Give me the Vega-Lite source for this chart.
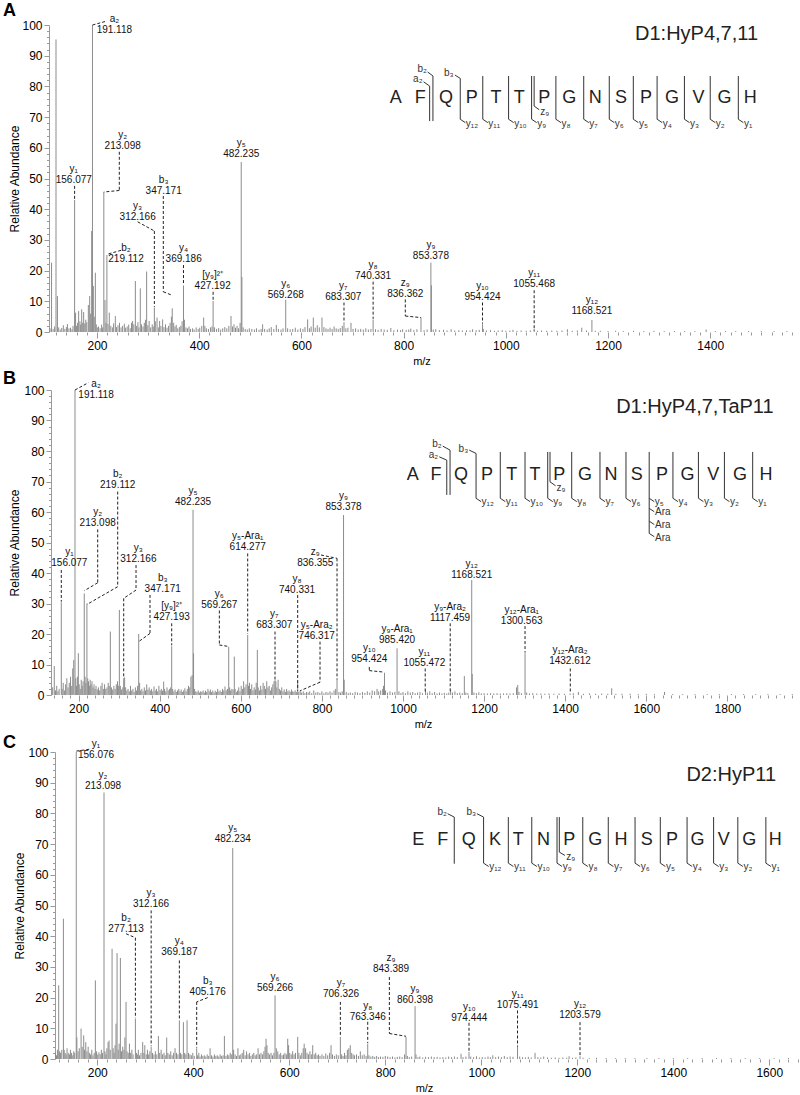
{
"$schema": "https://vega.github.io/schema/vega-lite/v6.json",
"padding": {"left": 2, "top": 1, "right": 0, "bottom": 0},
"spacing": 4,
"datasets": {
"pA": [{"mz":108,"ab":1.2},{"mz":111,"ab":22.6},{"mz":114,"ab":1.0},{"mz":117,"ab":1.8},{"mz":119.7,"ab":95.3},{"mz":122.5,"ab":11.7},{"mz":125,"ab":1.5},{"mz":128,"ab":0.8},{"mz":131,"ab":1.3},{"mz":134,"ab":2.2},{"mz":137,"ab":1.0},{"mz":140,"ab":1.6},{"mz":142,"ab":2.6},{"mz":145,"ab":1.2},{"mz":148,"ab":1.4},{"mz":151,"ab":0.9},{"mz":153,"ab":2.0},{"mz":156.1,"ab":43},{"mz":158,"ab":6.3},{"mz":160,"ab":2.0},{"mz":162,"ab":3.0},{"mz":164,"ab":6.8},{"mz":166.5,"ab":3.5},{"mz":168,"ab":2.4},{"mz":170,"ab":7.4},{"mz":172,"ab":3.0},{"mz":173.8,"ab":6.5},{"mz":176,"ab":2.8},{"mz":178,"ab":4.0},{"mz":180,"ab":3.2},{"mz":183,"ab":8.8},{"mz":185.6,"ab":11.7},{"mz":187.5,"ab":6.0},{"mz":189.5,"ab":32.9},{"mz":191.1,"ab":100},{"mz":192.8,"ab":15},{"mz":194.5,"ab":5.0},{"mz":196.7,"ab":19.3},{"mz":198.5,"ab":2.5},{"mz":200.5,"ab":1.5},{"mz":203,"ab":1.8},{"mz":206,"ab":1.2},{"mz":209,"ab":2.4},{"mz":211,"ab":1.5},{"mz":213.3,"ab":45.6},{"mz":215.6,"ab":10.4},{"mz":217.5,"ab":3.0},{"mz":219.3,"ab":25.1},{"mz":221.5,"ab":2.6},{"mz":224,"ab":6.3},{"mz":227,"ab":2.0},{"mz":230,"ab":1.5},{"mz":232.5,"ab":2.8},{"mz":235.8,"ab":5.2},{"mz":238,"ab":1.6},{"mz":241,"ab":2.2},{"mz":244,"ab":3.0},{"mz":247,"ab":1.5},{"mz":250,"ab":2.0},{"mz":253.4,"ab":2.7},{"mz":256,"ab":1.4},{"mz":259,"ab":1.8},{"mz":262,"ab":2.4},{"mz":265,"ab":1.2},{"mz":267.5,"ab":3.0},{"mz":269.7,"ab":3.6},{"mz":272,"ab":2.5},{"mz":275,"ab":16.6},{"mz":277.5,"ab":2.0},{"mz":280,"ab":3.2},{"mz":282,"ab":1.5},{"mz":284.7,"ab":14.2},{"mz":287,"ab":2.5},{"mz":290,"ab":1.8},{"mz":292.5,"ab":3.0},{"mz":295,"ab":4.0},{"mz":297.1,"ab":19.7},{"mz":299.5,"ab":2.2},{"mz":302,"ab":3.6},{"mz":305,"ab":1.5},{"mz":308,"ab":2.5},{"mz":310,"ab":1.8},{"mz":312.2,"ab":8.0},{"mz":314,"ab":3.5},{"mz":317.4,"ab":4.7},{"mz":320,"ab":1.5},{"mz":322.5,"ab":3.6},{"mz":325,"ab":2.0},{"mz":328.4,"ab":4.1},{"mz":331,"ab":1.6},{"mz":334,"ab":2.5},{"mz":337,"ab":1.4},{"mz":340,"ab":2.0},{"mz":343,"ab":3.0},{"mz":345.5,"ab":5.0},{"mz":347.2,"ab":7.7},{"mz":350,"ab":3.0},{"mz":352.5,"ab":1.8},{"mz":355,"ab":2.3},{"mz":358,"ab":1.2},{"mz":361,"ab":1.6},{"mz":364,"ab":2.0},{"mz":366.5,"ab":3.5},{"mz":369.2,"ab":15},{"mz":371,"ab":4.0},{"mz":374,"ab":1.5},{"mz":377,"ab":1.2},{"mz":380,"ab":1.8},{"mz":383,"ab":1.0},{"mz":387,"ab":1.2},{"mz":390,"ab":0.8},{"mz":394,"ab":1.5},{"mz":398,"ab":1.0},{"mz":401,"ab":1.4},{"mz":405,"ab":2.0},{"mz":408.7,"ab":4.7},{"mz":411,"ab":2.0},{"mz":414,"ab":1.2},{"mz":418,"ab":1.0},{"mz":422,"ab":1.5},{"mz":425,"ab":1.8},{"mz":427.2,"ab":10.1},{"mz":430,"ab":1.5},{"mz":434,"ab":1.0},{"mz":438,"ab":1.3},{"mz":442,"ab":0.8},{"mz":446,"ab":1.2},{"mz":450,"ab":1.6},{"mz":454,"ab":1.2},{"mz":458,"ab":2.0},{"mz":462.2,"ab":5.2},{"mz":465,"ab":1.8},{"mz":468,"ab":2.5},{"mz":471,"ab":1.4},{"mz":474,"ab":2.0},{"mz":477,"ab":1.2},{"mz":480,"ab":3.0},{"mz":482.2,"ab":55.4},{"mz":483.5,"ab":17.9},{"mz":486,"ab":1.5},{"mz":490,"ab":1.0},{"mz":494,"ab":0.8},{"mz":498,"ab":1.2},{"mz":503,"ab":1.0},{"mz":508,"ab":0.8},{"mz":512,"ab":1.2},{"mz":517,"ab":0.7},{"mz":521,"ab":1.0},{"mz":524.1,"ab":2.5},{"mz":528,"ab":1.0},{"mz":533,"ab":0.8},{"mz":537,"ab":1.2},{"mz":541,"ab":1.6},{"mz":546,"ab":1.0},{"mz":550.9,"ab":2.3},{"mz":555,"ab":1.0},{"mz":560,"ab":0.8},{"mz":564,"ab":1.2},{"mz":569.3,"ab":10.5},{"mz":573,"ab":1.2},{"mz":578,"ab":0.9},{"mz":583,"ab":1.0},{"mz":588,"ab":1.4},{"mz":593,"ab":0.8},{"mz":598,"ab":1.2},{"mz":603,"ab":1.0},{"mz":607,"ab":1.6},{"mz":612.2,"ab":4.1},{"mz":616,"ab":1.2},{"mz":619,"ab":1.8},{"mz":623.3,"ab":4.7},{"mz":627,"ab":1.4},{"mz":631,"ab":2.2},{"mz":635,"ab":1.5},{"mz":640.2,"ab":4.7},{"mz":644,"ab":1.6},{"mz":648,"ab":1.2},{"mz":652,"ab":1.0},{"mz":656,"ab":1.4},{"mz":660,"ab":1.0},{"mz":664,"ab":1.8},{"mz":668,"ab":1.2},{"mz":672,"ab":1.0},{"mz":676,"ab":1.3},{"mz":680,"ab":2.0},{"mz":683.3,"ab":3.2},{"mz":687,"ab":1.2},{"mz":691,"ab":1.4},{"mz":697,"ab":3.0},{"mz":701,"ab":1.0},{"mz":706,"ab":1.2},{"mz":711,"ab":0.8},{"mz":716,"ab":1.0},{"mz":721,"ab":0.8},{"mz":726,"ab":1.2},{"mz":731,"ab":0.8},{"mz":736,"ab":1.0},{"mz":740.3,"ab":4.1},{"mz":745,"ab":0.9},{"mz":750,"ab":0.7},{"mz":756,"ab":1.0},{"mz":762,"ab":0.8},{"mz":768,"ab":0.7},{"mz":775,"ab":1.3},{"mz":781,"ab":0.6},{"mz":788,"ab":0.8},{"mz":794,"ab":0.6},{"mz":798,"ab":0.9},{"mz":805,"ab":0.7},{"mz":810,"ab":0.8},{"mz":814,"ab":1.1},{"mz":820,"ab":0.6},{"mz":826,"ab":0.9},{"mz":834,"ab":4.7},{"mz":840,"ab":0.6},{"mz":846,"ab":0.8},{"mz":853.4,"ab":22.6},{"mz":854.4,"ab":15.2},{"mz":858,"ab":0.8},{"mz":863,"ab":0.9},{"mz":870,"ab":0.6},{"mz":878,"ab":0.7},{"mz":885,"ab":0.5},{"mz":893,"ab":0.9},{"mz":900,"ab":0.5},{"mz":908,"ab":0.6},{"mz":915,"ab":0.5},{"mz":923,"ab":0.6},{"mz":930,"ab":0.5},{"mz":935,"ab":0.9},{"mz":942,"ab":0.6},{"mz":948,"ab":0.7},{"mz":954.4,"ab":2.5},{"mz":956,"ab":1.0},{"mz":962,"ab":0.5},{"mz":970,"ab":0.6},{"mz":978,"ab":0.4},{"mz":985,"ab":0.5},{"mz":993,"ab":0.6},{"mz":1000,"ab":0.4},{"mz":1008,"ab":0.5},{"mz":1014,"ab":0.7},{"mz":1022,"ab":0.4},{"mz":1030,"ab":0.5},{"mz":1040,"ab":0.4},{"mz":1048,"ab":0.5},{"mz":1055.5,"ab":1.0},{"mz":1062,"ab":0.4},{"mz":1070,"ab":0.5},{"mz":1080,"ab":0.4},{"mz":1090,"ab":0.5},{"mz":1100,"ab":0.4},{"mz":1110,"ab":0.5},{"mz":1120.5,"ab":0.9},{"mz":1130,"ab":0.4},{"mz":1140,"ab":0.5},{"mz":1148.6,"ab":1.4},{"mz":1158,"ab":0.5},{"mz":1168.5,"ab":3.9},{"mz":1175,"ab":0.4},{"mz":1185,"ab":0.4},{"mz":1200,"ab":0.3},{"mz":1215,"ab":0.4},{"mz":1230,"ab":0.3},{"mz":1250,"ab":0.4},{"mz":1270,"ab":0.3},{"mz":1290,"ab":0.4},{"mz":1310,"ab":0.3},{"mz":1330,"ab":0.3},{"mz":1350,"ab":0.3},{"mz":1370,"ab":0.3},{"mz":1392,"ab":0.8},{"mz":1410,"ab":0.3},{"mz":1430,"ab":0.3},{"mz":1450,"ab":0.3},{"mz":1475,"ab":0.3},{"mz":1500,"ab":0.3},{"mz":1525,"ab":0.3},{"mz":1550,"ab":0.3}],
"lA": [{"mz":233.9,"ab":97.4,"ion":"a₂","v":"191.118"},{"mz":154.5,"ab":48.5,"ion":"y₁","v":"156.077"},{"mz":250.2,"ab":59.7,"ion":"y₂","v":"213.098"},{"mz":279.5,"ab":36.6,"ion":"y₃","v":"312.166"},{"mz":330.4,"ab":45.0,"ion":"b₃","v":"347.171"},{"mz":256.7,"ab":22.7,"ion":"b₂","v":"219.112"},{"mz":369.5,"ab":22.7,"ion":"y₄","v":"369.186"},{"mz":426.3,"ab":14.0,"ion":"[y₉]²⁺","v":"427.192"},{"mz":482.2,"ab":57.0,"ion":"y₅","v":"482.235"},{"mz":569.3,"ab":11.1,"ion":"y₆","v":"569.268"},{"mz":682.0,"ab":10.5,"ion":"y₇","v":"683.307"},{"mz":740.3,"ab":17.4,"ion":"y₈","v":"740.331"},{"mz":803.3,"ab":11.4,"ion":"z₉","v":"836.362"},{"mz":853.4,"ab":23.9,"ion":"y₉","v":"853.378"},{"mz":954.4,"ab":10.3,"ion":"y₁₀","v":"954.424"},{"mz":1055.5,"ab":14.5,"ion":"y₁₁","v":"1055.468"},{"mz":1168.5,"ab":5.9,"ion":"y₁₂","v":"1168.521"}],
"dA": [{"mz":191.1,"ab":100,"mz2":219.5,"ab2":101.3},{"mz":156.1,"ab":47.6,"mz2":156.1,"ab2":43.3},{"mz":243.6,"ab":58.7,"mz2":243.6,"ab2":46.1},{"mz":243.6,"ab":46.1,"mz2":213.3,"ab2":45.6},{"mz":279.5,"ab":35.9,"mz2":312.2,"ab2":32.9},{"mz":312.2,"ab":32.9,"mz2":312.2,"ab2":8.2},{"mz":329.7,"ab":44.3,"mz2":329.7,"ab2":13.1},{"mz":329.7,"ab":13.1,"mz2":345,"ab2":12.1},{"mz":247,"ab":26.6,"mz2":219.3,"ab2":25.3},{"mz":369.2,"ab":21.8,"mz2":369.2,"ab2":15.2},{"mz":427.2,"ab":13.1,"mz2":427.2,"ab2":10.3},{"mz":683.3,"ab":9.6,"mz2":683.3,"ab2":3.4},{"mz":740.3,"ab":16.4,"mz2":740.3,"ab2":4.3},{"mz":803.3,"ab":10.6,"mz2":803.3,"ab2":5.2},{"mz":803.3,"ab":5.2,"mz2":834,"ab2":4.7},{"mz":954.4,"ab":9.6,"mz2":954.4,"ab2":2.7},{"mz":1055.5,"ab":13.6,"mz2":1055.5,"ab2":0.4}],
"rA": [{"i":0.99,"yy":76.2,"aa":"A"},{"i":1.96,"yy":76.2,"aa":"F"},{"i":2.98,"yy":76.2,"aa":"Q"},{"i":3.99,"yy":76.2,"aa":"P"},{"i":4.95,"yy":76.2,"aa":"T"},{"i":5.87,"yy":76.2,"aa":"T"},{"i":6.86,"yy":76.2,"aa":"P"},{"i":7.85,"yy":76.2,"aa":"G"},{"i":8.88,"yy":76.2,"aa":"N"},{"i":9.89,"yy":76.2,"aa":"S"},{"i":10.88,"yy":76.2,"aa":"P"},{"i":11.91,"yy":76.2,"aa":"G"},{"i":12.96,"yy":76.2,"aa":"V"},{"i":13.98,"yy":76.2,"aa":"G"},{"i":15.0,"yy":76.2,"aa":"H"}],
"sA": [{"i":3.54,"yy":82.6,"i2":3.54,"yy2":69.3},{"i":4.43,"yy":83.4,"i2":4.43,"yy2":69.3},{"i":5.45,"yy":83.4,"i2":5.45,"yy2":69.3},{"i":6.36,"yy":83.4,"i2":6.36,"yy2":69.3},{"i":7.32,"yy":83.4,"i2":7.32,"yy2":69.3},{"i":8.42,"yy":83.4,"i2":8.42,"yy2":69.3},{"i":9.43,"yy":83.4,"i2":9.43,"yy2":69.3},{"i":10.38,"yy":83.4,"i2":10.38,"yy2":69.3},{"i":11.32,"yy":83.4,"i2":11.32,"yy2":69.3},{"i":12.4,"yy":83.4,"i2":12.4,"yy2":69.3},{"i":13.42,"yy":83.4,"i2":13.42,"yy2":69.3},{"i":14.53,"yy":83.4,"i2":14.53,"yy2":69.3},{"i":3.54,"yy":69.3,"i2":3.74,"yy2":68.2},{"i":4.43,"yy":69.3,"i2":4.63,"yy2":68.2},{"i":5.45,"yy":69.3,"i2":5.65,"yy2":68.2},{"i":6.36,"yy":69.3,"i2":6.56,"yy2":68.2},{"i":7.32,"yy":69.3,"i2":7.52,"yy2":68.2},{"i":8.42,"yy":69.3,"i2":8.62,"yy2":68.2},{"i":9.43,"yy":69.3,"i2":9.63,"yy2":68.2},{"i":10.38,"yy":69.3,"i2":10.58,"yy2":68.2},{"i":11.32,"yy":69.3,"i2":11.52,"yy2":68.2},{"i":12.4,"yy":69.3,"i2":12.6,"yy2":68.2},{"i":13.42,"yy":69.3,"i2":13.62,"yy2":68.2},{"i":14.53,"yy":69.3,"i2":14.73,"yy2":68.2},{"i":2.46,"yy":83.4,"i2":2.46,"yy2":68.7},{"i":2.46,"yy":83.4,"i2":2.25,"yy2":84.7},{"i":2.33,"yy":80.1,"i2":2.33,"yy2":68.7},{"i":2.33,"yy":80.1,"i2":2.09,"yy2":81.5},{"i":3.54,"yy":82.6,"i2":3.33,"yy2":83.7},{"i":6.46,"yy":83.4,"i2":6.46,"yy2":73.6},{"i":6.46,"yy":73.6,"i2":6.66,"yy2":72.4}],
"tlA": [{"i":3.76,"yy":67.8,"t":"y₁₂"},{"i":4.65,"yy":67.8,"t":"y₁₁"},{"i":5.67,"yy":67.8,"t":"y₁₀"},{"i":6.58,"yy":67.8,"t":"y₉"},{"i":7.54,"yy":67.8,"t":"y₈"},{"i":8.64,"yy":67.8,"t":"y₇"},{"i":9.65,"yy":67.8,"t":"y₆"},{"i":10.6,"yy":67.8,"t":"y₅"},{"i":11.54,"yy":67.8,"t":"y₄"},{"i":12.62,"yy":67.8,"t":"y₃"},{"i":13.64,"yy":67.8,"t":"y₂"},{"i":14.75,"yy":67.8,"t":"y₁"},{"i":6.7,"yy":71.8,"t":"z₉"}],
"trA": [{"i":2.22,"yy":85.6,"t":"b₂"},{"i":2.05,"yy":82.3,"t":"a₂"},{"i":3.28,"yy":84.3,"t":"b₃"}],
"pB": [{"mz":136,"ab":2.5},{"mz":140,"ab":9.5},{"mz":143,"ab":1.5},{"mz":146,"ab":3.0},{"mz":149,"ab":1.2},{"mz":152,"ab":2.0},{"mz":157.3,"ab":30.4},{"mz":159.5,"ab":2.0},{"mz":162,"ab":4.0},{"mz":165,"ab":1.5},{"mz":168,"ab":3.5},{"mz":171,"ab":5.5},{"mz":174,"ab":2.5},{"mz":177,"ab":4.0},{"mz":180,"ab":6.0},{"mz":183,"ab":3.0},{"mz":185.5,"ab":8.7},{"mz":188,"ab":11.5},{"mz":191.1,"ab":100},{"mz":193,"ab":5.5},{"mz":195,"ab":3.0},{"mz":197,"ab":6.0},{"mz":199.4,"ab":13.7},{"mz":201.5,"ab":3.5},{"mz":204,"ab":2.0},{"mz":206.5,"ab":5.0},{"mz":209,"ab":3.0},{"mz":211,"ab":4.5},{"mz":214,"ab":33.3},{"mz":216,"ab":6.0},{"mz":218,"ab":4.0},{"mz":220.5,"ab":30},{"mz":222.5,"ab":5.5},{"mz":224.5,"ab":4.5},{"mz":226.5,"ab":3.0},{"mz":228.5,"ab":5.0},{"mz":230.5,"ab":3.5},{"mz":233,"ab":4.5},{"mz":235.5,"ab":2.5},{"mz":238,"ab":3.5},{"mz":240.5,"ab":2.0},{"mz":243,"ab":3.0},{"mz":246,"ab":1.8},{"mz":249,"ab":2.5},{"mz":252,"ab":1.5},{"mz":255,"ab":3.0},{"mz":258,"ab":4.0},{"mz":261,"ab":2.0},{"mz":264,"ab":3.5},{"mz":267,"ab":2.0},{"mz":270,"ab":2.5},{"mz":273,"ab":4.0},{"mz":275.5,"ab":3.0},{"mz":278.3,"ab":20.8},{"mz":281,"ab":2.5},{"mz":284,"ab":1.8},{"mz":287,"ab":3.0},{"mz":290,"ab":2.0},{"mz":293,"ab":3.5},{"mz":296,"ab":4.5},{"mz":298,"ab":3.0},{"mz":300.5,"ab":27.9},{"mz":303,"ab":3.0},{"mz":306,"ab":1.8},{"mz":309,"ab":2.5},{"mz":311.2,"ab":5.5},{"mz":313.5,"ab":5.8},{"mz":316,"ab":2.5},{"mz":319,"ab":1.5},{"mz":322,"ab":2.0},{"mz":325,"ab":1.2},{"mz":328,"ab":3.0},{"mz":331,"ab":1.5},{"mz":334,"ab":2.0},{"mz":337,"ab":1.0},{"mz":340,"ab":2.5},{"mz":343,"ab":1.5},{"mz":345.5,"ab":3.0},{"mz":348.2,"ab":20.0},{"mz":350.5,"ab":4.0},{"mz":353,"ab":1.5},{"mz":356,"ab":2.0},{"mz":359,"ab":1.2},{"mz":362,"ab":2.5},{"mz":365,"ab":1.5},{"mz":368,"ab":3.5},{"mz":371,"ab":1.8},{"mz":374,"ab":2.5},{"mz":377,"ab":1.5},{"mz":380,"ab":2.0},{"mz":383,"ab":1.2},{"mz":386,"ab":2.8},{"mz":389,"ab":1.5},{"mz":392,"ab":2.0},{"mz":395,"ab":1.2},{"mz":398,"ab":3.0},{"mz":401,"ab":1.5},{"mz":404,"ab":2.0},{"mz":407,"ab":1.4},{"mz":409.8,"ab":4.4},{"mz":412,"ab":2.0},{"mz":415,"ab":1.2},{"mz":418,"ab":2.5},{"mz":421,"ab":1.5},{"mz":424,"ab":2.0},{"mz":427,"ab":2.5},{"mz":429.6,"ab":16.0},{"mz":432,"ab":2.0},{"mz":435,"ab":1.2},{"mz":438,"ab":1.8},{"mz":441,"ab":1.0},{"mz":444,"ab":1.5},{"mz":447,"ab":2.0},{"mz":450,"ab":1.2},{"mz":453,"ab":1.8},{"mz":456,"ab":1.0},{"mz":459,"ab":1.5},{"mz":462,"ab":2.2},{"mz":465,"ab":1.2},{"mz":468,"ab":2.0},{"mz":471,"ab":3.0},{"mz":474,"ab":2.5},{"mz":477,"ab":6.0},{"mz":480,"ab":6.5},{"mz":482.2,"ab":60.7},{"mz":483.5,"ab":13.7},{"mz":486,"ab":2.0},{"mz":489,"ab":1.2},{"mz":492,"ab":1.0},{"mz":495,"ab":1.5},{"mz":498,"ab":0.8},{"mz":501,"ab":1.2},{"mz":504,"ab":1.0},{"mz":507,"ab":1.5},{"mz":510,"ab":0.8},{"mz":513,"ab":1.4},{"mz":516,"ab":1.0},{"mz":519,"ab":2.0},{"mz":522,"ab":1.2},{"mz":525,"ab":1.8},{"mz":528,"ab":1.0},{"mz":531,"ab":1.5},{"mz":534,"ab":0.8},{"mz":537,"ab":1.4},{"mz":540,"ab":1.0},{"mz":543,"ab":2.0},{"mz":546,"ab":1.2},{"mz":549,"ab":1.5},{"mz":552,"ab":1.0},{"mz":555,"ab":2.0},{"mz":558,"ab":1.5},{"mz":561,"ab":2.8},{"mz":564,"ab":1.5},{"mz":567,"ab":2.0},{"mz":570.2,"ab":15.8},{"mz":572.5,"ab":2.5},{"mz":575,"ab":1.5},{"mz":578,"ab":2.0},{"mz":581,"ab":1.8},{"mz":584,"ab":12.6},{"mz":586,"ab":2.0},{"mz":589,"ab":1.0},{"mz":592,"ab":1.5},{"mz":595,"ab":2.5},{"mz":598,"ab":1.2},{"mz":601,"ab":3.0},{"mz":604,"ab":2.0},{"mz":607,"ab":4.5},{"mz":610,"ab":2.5},{"mz":613,"ab":3.5},{"mz":617,"ab":19.7},{"mz":619,"ab":3.0},{"mz":621.5,"ab":4.0},{"mz":624,"ab":2.0},{"mz":627,"ab":3.5},{"mz":630,"ab":1.5},{"mz":633,"ab":2.5},{"mz":636,"ab":1.8},{"mz":638,"ab":4.0},{"mz":640.8,"ab":14.8},{"mz":643,"ab":2.5},{"mz":646,"ab":1.5},{"mz":649,"ab":3.0},{"mz":652,"ab":1.8},{"mz":655,"ab":4.0},{"mz":658,"ab":3.0},{"mz":661,"ab":2.0},{"mz":664,"ab":4.5},{"mz":667,"ab":2.5},{"mz":670,"ab":3.0},{"mz":673,"ab":1.5},{"mz":676,"ab":2.5},{"mz":679,"ab":3.5},{"mz":682,"ab":4.5},{"mz":684.4,"ab":4.9},{"mz":686.5,"ab":4.5},{"mz":689,"ab":2.5},{"mz":692,"ab":5.0},{"mz":695,"ab":2.0},{"mz":698,"ab":1.5},{"mz":701,"ab":2.5},{"mz":704,"ab":1.2},{"mz":707,"ab":1.8},{"mz":710,"ab":1.0},{"mz":713,"ab":2.0},{"mz":716,"ab":1.2},{"mz":719,"ab":1.5},{"mz":722,"ab":1.0},{"mz":725,"ab":1.8},{"mz":728,"ab":1.2},{"mz":731,"ab":1.0},{"mz":734,"ab":1.5},{"mz":737,"ab":1.0},{"mz":740.3,"ab":4.4},{"mz":743,"ab":1.0},{"mz":746.5,"ab":1.5},{"mz":750,"ab":0.8},{"mz":754,"ab":1.2},{"mz":758,"ab":0.6},{"mz":762,"ab":1.0},{"mz":766,"ab":0.8},{"mz":770,"ab":1.2},{"mz":775,"ab":0.6},{"mz":780,"ab":1.5},{"mz":785,"ab":0.8},{"mz":790,"ab":1.0},{"mz":795,"ab":0.7},{"mz":800,"ab":1.2},{"mz":805,"ab":0.6},{"mz":810,"ab":1.0},{"mz":815,"ab":0.8},{"mz":820,"ab":1.2},{"mz":825,"ab":0.8},{"mz":830,"ab":1.5},{"mz":834,"ab":2.0},{"mz":837.3,"ab":4.9},{"mz":842,"ab":1.0},{"mz":846,"ab":0.8},{"mz":850,"ab":1.2},{"mz":853.4,"ab":59.0},{"mz":855,"ab":5.0},{"mz":860,"ab":1.0},{"mz":865,"ab":0.6},{"mz":870,"ab":0.8},{"mz":876,"ab":0.6},{"mz":882,"ab":1.0},{"mz":888,"ab":0.8},{"mz":894,"ab":0.6},{"mz":900,"ab":1.0},{"mz":906,"ab":0.7},{"mz":912,"ab":1.2},{"mz":918,"ab":0.8},{"mz":924,"ab":1.5},{"mz":930,"ab":1.2},{"mz":936,"ab":2.0},{"mz":940,"ab":1.2},{"mz":945,"ab":1.5},{"mz":950,"ab":2.0},{"mz":952,"ab":3.0},{"mz":954.4,"ab":7.3},{"mz":957,"ab":1.5},{"mz":962,"ab":0.8},{"mz":968,"ab":1.2},{"mz":974,"ab":0.8},{"mz":980,"ab":1.0},{"mz":985.4,"ab":15.3},{"mz":990,"ab":1.2},{"mz":995,"ab":0.6},{"mz":1000,"ab":1.0},{"mz":1006,"ab":0.6},{"mz":1012,"ab":1.2},{"mz":1018,"ab":0.8},{"mz":1024,"ab":1.0},{"mz":1030,"ab":0.6},{"mz":1036,"ab":0.8},{"mz":1042,"ab":1.0},{"mz":1048,"ab":0.6},{"mz":1055.5,"ab":1.5},{"mz":1060,"ab":0.8},{"mz":1066,"ab":1.2},{"mz":1072,"ab":0.6},{"mz":1078,"ab":1.0},{"mz":1084,"ab":0.5},{"mz":1090,"ab":0.8},{"mz":1096,"ab":0.5},{"mz":1102,"ab":0.7},{"mz":1108,"ab":0.5},{"mz":1113,"ab":0.8},{"mz":1117.5,"ab":1.5},{"mz":1122,"ab":0.8},{"mz":1128,"ab":1.2},{"mz":1134,"ab":0.6},{"mz":1140,"ab":0.8},{"mz":1146,"ab":0.6},{"mz":1151.3,"ab":6.2},{"mz":1155,"ab":0.8},{"mz":1160,"ab":0.6},{"mz":1169.5,"ab":37.7},{"mz":1170.8,"ab":6.9},{"mz":1175,"ab":0.8},{"mz":1181,"ab":0.6},{"mz":1187,"ab":0.9},{"mz":1193,"ab":0.5},{"mz":1200,"ab":0.6},{"mz":1208,"ab":0.5},{"mz":1216,"ab":0.6},{"mz":1224,"ab":0.5},{"mz":1232,"ab":0.6},{"mz":1240,"ab":0.5},{"mz":1248,"ab":0.5},{"mz":1256,"ab":0.6},{"mz":1264,"ab":0.5},{"mz":1272,"ab":0.6},{"mz":1280,"ab":2.5},{"mz":1283,"ab":3.3},{"mz":1286,"ab":1.0},{"mz":1292,"ab":0.6},{"mz":1301,"ab":13.7},{"mz":1305,"ab":0.8},{"mz":1312,"ab":0.5},{"mz":1320,"ab":0.6},{"mz":1330,"ab":0.5},{"mz":1340,"ab":0.5},{"mz":1350,"ab":0.4},{"mz":1360,"ab":0.5},{"mz":1372,"ab":0.4},{"mz":1385,"ab":0.5},{"mz":1398,"ab":0.4},{"mz":1412,"ab":0.5},{"mz":1420,"ab":0.6},{"mz":1432.6,"ab":1.0},{"mz":1445,"ab":0.4},{"mz":1460,"ab":0.5},{"mz":1475,"ab":0.4},{"mz":1490,"ab":0.5},{"mz":1505,"ab":0.4},{"mz":1514.7,"ab":2.2},{"mz":1525,"ab":0.4},{"mz":1540,"ab":0.4},{"mz":1560,"ab":0.4},{"mz":1580,"ab":0.3},{"mz":1600,"ab":0.4},{"mz":1620,"ab":0.3},{"mz":1645,"ab":1.0},{"mz":1665,"ab":0.3},{"mz":1690,"ab":0.3},{"mz":1720,"ab":0.3},{"mz":1750,"ab":0.3},{"mz":1780,"ab":0.3},{"mz":1810,"ab":0.3},{"mz":1840,"ab":0.3},{"mz":1870,"ab":0.3},{"mz":1900,"ab":0.3},{"mz":1930,"ab":0.3},{"mz":1960,"ab":0.3}],
"lB": [{"mz":243,"ab":97.4,"ion":"a₂","v":"191.118"},{"mz":177.2,"ab":42.2,"ion":"y₁","v":"156.077"},{"mz":247.1,"ab":55.3,"ion":"y₂","v":"213.098"},{"mz":296.4,"ab":67.9,"ion":"b₂","v":"219.112"},{"mz":347.4,"ab":43.6,"ion":"y₃","v":"312.166"},{"mz":407.4,"ab":33.7,"ion":"b₃","v":"347.171"},{"mz":429.6,"ab":24.5,"ion":"[y₉]²⁺","v":"427.193"},{"mz":482.2,"ab":62.4,"ion":"y₅","v":"482.235"},{"mz":547.1,"ab":28.6,"ion":"y₆","v":"569.267"},{"mz":617,"ab":47.4,"ion":"y₅-Ara₁","v":"614.277"},{"mz":682.7,"ab":22.0,"ion":"y₇","v":"683.307"},{"mz":738.7,"ab":33.6,"ion":"y₈","v":"740.331"},{"mz":783.8,"ab":42.2,"ion":"z₉","v":"836.355"},{"mz":787.2,"ab":18.3,"ion":"y₅-Ara₂","v":"746.317"},{"mz":853.4,"ab":60.5,"ion":"y₉","v":"853.378"},{"mz":916.9,"ab":10.7,"ion":"y₁₀","v":"954.424"},{"mz":985.3,"ab":17.2,"ion":"y₉-Ara₁","v":"985.420"},{"mz":1052.7,"ab":9.6,"ion":"y₁₁","v":"1055.472"},{"mz":1116,"ab":24.3,"ion":"y₉-Ara₂","v":"1117.459"},{"mz":1169.5,"ab":38.2,"ion":"y₁₂","v":"1168.521"},{"mz":1292.7,"ab":23.4,"ion":"y₁₂-Ara₁","v":"1300.563"},{"mz":1411.9,"ab":10.2,"ion":"y₁₂-Ara₂","v":"1432.612"}],
"dB": [{"mz":191.1,"ab":100,"mz2":224.1,"ab2":102.4},{"mz":157.3,"ab":41.0,"mz2":157.3,"ab2":30.6},{"mz":247.1,"ab":54.3,"mz2":247.1,"ab2":36.8},{"mz":247.1,"ab":36.8,"mz2":214.2,"ab2":34.2},{"mz":296.4,"ab":66.7,"mz2":296.4,"ab2":35.5},{"mz":296.4,"ab":35.5,"mz2":220.8,"ab2":29.7},{"mz":341.6,"ab":42.6,"mz2":341.6,"ab2":34.4},{"mz":341.6,"ab":34.4,"mz2":311.2,"ab2":31.7},{"mz":311.2,"ab":31.7,"mz2":311.2,"ab2":5.8},{"mz":376.1,"ab":32.8,"mz2":376.1,"ab2":20.2},{"mz":376.1,"ab":20.2,"mz2":348.2,"ab2":17.5},{"mz":429.6,"ab":23.5,"mz2":429.6,"ab2":16.3},{"mz":547.1,"ab":27.7,"mz2":547.1,"ab2":16.4},{"mz":547.1,"ab":16.4,"mz2":570.2,"ab2":15.9},{"mz":617,"ab":46.4,"mz2":617,"ab2":20.0},{"mz":684.4,"ab":20.8,"mz2":684.4,"ab2":5.0},{"mz":740.3,"ab":32.8,"mz2":740.3,"ab2":1.4},{"mz":795.4,"ab":17.5,"mz2":795.4,"ab2":4.2},{"mz":795.4,"ab":4.2,"mz2":746.5,"ab2":1.4},{"mz":797.8,"ab":45.9,"mz2":837.3,"ab2":44.8},{"mz":837.3,"ab":44.8,"mz2":837.3,"ab2":5.0},{"mz":916.9,"ab":9.2,"mz2":916.9,"ab2":8.0},{"mz":916.9,"ab":8.0,"mz2":953.5,"ab2":7.5},{"mz":1054.8,"ab":8.7,"mz2":1054.8,"ab2":0.6},{"mz":1116.5,"ab":23.5,"mz2":1116.5,"ab2":0.6},{"mz":1301,"ab":22.6,"mz2":1301,"ab2":13.9},{"mz":1412.6,"ab":8.7,"mz2":1412.6,"ab2":0.6}],
"rB": [{"i":1.0,"yy":72.1,"aa":"A"},{"i":1.92,"yy":72.1,"aa":"F"},{"i":2.91,"yy":72.1,"aa":"Q"},{"i":3.94,"yy":72.1,"aa":"P"},{"i":4.92,"yy":72.1,"aa":"T"},{"i":5.85,"yy":72.1,"aa":"T"},{"i":6.81,"yy":72.1,"aa":"P"},{"i":7.83,"yy":72.1,"aa":"G"},{"i":8.86,"yy":72.1,"aa":"N"},{"i":9.88,"yy":72.1,"aa":"S"},{"i":10.88,"yy":72.1,"aa":"P"},{"i":11.89,"yy":72.1,"aa":"G"},{"i":12.91,"yy":72.1,"aa":"V"},{"i":13.97,"yy":72.1,"aa":"G"},{"i":15.0,"yy":72.1,"aa":"H"}],
"sB": [{"i":3.51,"yy":79.2,"i2":3.51,"yy2":64.5},{"i":4.47,"yy":79.7,"i2":4.47,"yy2":64.5},{"i":5.45,"yy":79.7,"i2":5.45,"yy2":64.5},{"i":6.35,"yy":79.7,"i2":6.35,"yy2":64.5},{"i":7.30,"yy":79.7,"i2":7.30,"yy2":64.5},{"i":8.42,"yy":79.7,"i2":8.42,"yy2":64.5},{"i":9.45,"yy":79.7,"i2":9.45,"yy2":64.5},{"i":10.37,"yy":79.7,"i2":10.37,"yy2":53.0},{"i":11.31,"yy":79.7,"i2":11.31,"yy2":64.5},{"i":12.32,"yy":79.7,"i2":12.32,"yy2":64.5},{"i":13.35,"yy":79.7,"i2":13.35,"yy2":64.5},{"i":14.47,"yy":79.7,"i2":14.47,"yy2":64.5},{"i":3.51,"yy":64.5,"i2":3.71,"yy2":63.4},{"i":4.47,"yy":64.5,"i2":4.67,"yy2":63.4},{"i":5.45,"yy":64.5,"i2":5.65,"yy2":63.4},{"i":6.35,"yy":64.5,"i2":6.55,"yy2":63.4},{"i":7.30,"yy":64.5,"i2":7.50,"yy2":63.4},{"i":8.42,"yy":64.5,"i2":8.62,"yy2":63.4},{"i":9.45,"yy":64.5,"i2":9.65,"yy2":63.4},{"i":10.37,"yy":64.5,"i2":10.57,"yy2":63.4},{"i":11.31,"yy":64.5,"i2":11.51,"yy2":63.4},{"i":12.32,"yy":64.5,"i2":12.52,"yy2":63.4},{"i":13.35,"yy":64.5,"i2":13.55,"yy2":63.4},{"i":14.47,"yy":64.5,"i2":14.67,"yy2":63.4},{"i":2.48,"yy":80.3,"i2":2.48,"yy2":65.6},{"i":2.48,"yy":80.3,"i2":2.19,"yy2":81.6},{"i":2.35,"yy":77.0,"i2":2.35,"yy2":65.6},{"i":2.35,"yy":77.0,"i2":2.05,"yy2":78.1},{"i":3.51,"yy":79.2,"i2":3.24,"yy2":80.3},{"i":6.44,"yy":79.7,"i2":6.44,"yy2":69.9},{"i":6.44,"yy":69.9,"i2":6.66,"yy2":68.6},{"i":10.37,"yy":61.2,"i2":10.57,"yy2":60.1},{"i":10.37,"yy":57.0,"i2":10.57,"yy2":55.9},{"i":10.37,"yy":53.0,"i2":10.57,"yy2":51.9}],
"tlB": [{"i":3.73,"yy":63.2,"t":"y₁₂"},{"i":4.69,"yy":63.2,"t":"y₁₁"},{"i":5.67,"yy":63.2,"t":"y₁₀"},{"i":6.57,"yy":63.2,"t":"y₉"},{"i":7.52,"yy":63.2,"t":"y₈"},{"i":8.64,"yy":63.2,"t":"y₇"},{"i":9.67,"yy":63.2,"t":"y₆"},{"i":10.59,"yy":63.2,"t":"y₅"},{"i":11.53,"yy":63.2,"t":"y₄"},{"i":12.54,"yy":63.2,"t":"y₃"},{"i":13.57,"yy":63.2,"t":"y₂"},{"i":14.69,"yy":63.2,"t":"y₁"},{"i":6.7,"yy":67.8,"t":"z₉"},{"i":10.6,"yy":59.9,"t":"Ara"},{"i":10.6,"yy":55.7,"t":"Ara"},{"i":10.6,"yy":51.6,"t":"Ara"}],
"trB": [{"i":2.15,"yy":82.2,"t":"b₂"},{"i":2.01,"yy":78.8,"t":"a₂"},{"i":3.2,"yy":80.8,"t":"b₃"}],
"pC": [{"mz":113,"ab":2.0},{"mz":115,"ab":1.2},{"mz":117,"ab":3.0},{"mz":119.6,"ab":24},{"mz":121.5,"ab":2.5},{"mz":123.5,"ab":2.0},{"mz":126,"ab":3.0},{"mz":129.4,"ab":45.7},{"mz":131,"ab":3.0},{"mz":133,"ab":2.0},{"mz":135,"ab":1.5},{"mz":137,"ab":3.5},{"mz":139.5,"ab":2.0},{"mz":142,"ab":1.5},{"mz":144,"ab":3.0},{"mz":146.5,"ab":2.0},{"mz":149,"ab":1.2},{"mz":151,"ab":2.5},{"mz":153,"ab":2.0},{"mz":156.2,"ab":100},{"mz":157.5,"ab":7.0},{"mz":160,"ab":2.5},{"mz":162.5,"ab":3.5},{"mz":166.2,"ab":9.9},{"mz":168.5,"ab":4.0},{"mz":171.7,"ab":7.7},{"mz":173.5,"ab":3.0},{"mz":176,"ab":5.5},{"mz":178.5,"ab":2.5},{"mz":181,"ab":4.0},{"mz":183.5,"ab":2.0},{"mz":186,"ab":1.5},{"mz":188.5,"ab":3.0},{"mz":191,"ab":1.2},{"mz":193.5,"ab":2.0},{"mz":196,"ab":25.6},{"mz":198.5,"ab":2.5},{"mz":201,"ab":1.5},{"mz":203.5,"ab":2.2},{"mz":206,"ab":1.5},{"mz":208.5,"ab":3.0},{"mz":211,"ab":2.0},{"mz":214,"ab":86.8},{"mz":216,"ab":2.5},{"mz":218,"ab":1.5},{"mz":220,"ab":3.5},{"mz":222.5,"ab":5.5},{"mz":224.5,"ab":6.0},{"mz":227,"ab":3.0},{"mz":230.8,"ab":35.9},{"mz":233,"ab":3.5},{"mz":235,"ab":2.0},{"mz":237,"ab":4.5},{"mz":239,"ab":11.5},{"mz":241.2,"ab":34.5},{"mz":243.5,"ab":3.0},{"mz":245.5,"ab":5.0},{"mz":248.1,"ab":32.9},{"mz":250.5,"ab":2.5},{"mz":253,"ab":4.0},{"mz":255.5,"ab":3.0},{"mz":257.5,"ab":7.0},{"mz":259.9,"ab":18.6},{"mz":262,"ab":2.5},{"mz":264.5,"ab":2.0},{"mz":267,"ab":5.0},{"mz":269.5,"ab":2.0},{"mz":272,"ab":3.0},{"mz":274.5,"ab":1.5},{"mz":279.4,"ab":13.1},{"mz":281.5,"ab":2.0},{"mz":283.5,"ab":1.5},{"mz":285.5,"ab":3.0},{"mz":288,"ab":1.2},{"mz":291,"ab":2.0},{"mz":294.6,"ab":5.5},{"mz":297,"ab":2.0},{"mz":299,"ab":4.5},{"mz":302,"ab":1.5},{"mz":304.5,"ab":3.0},{"mz":307,"ab":1.5},{"mz":309.5,"ab":2.5},{"mz":312.2,"ab":4.0},{"mz":315,"ab":2.0},{"mz":318,"ab":1.5},{"mz":321,"ab":2.5},{"mz":324,"ab":1.5},{"mz":327.3,"ab":7.5},{"mz":330,"ab":2.0},{"mz":333,"ab":3.0},{"mz":336,"ab":1.5},{"mz":339,"ab":2.0},{"mz":341.5,"ab":1.2},{"mz":344.6,"ab":7.0},{"mz":347,"ab":2.0},{"mz":350,"ab":1.5},{"mz":353,"ab":2.5},{"mz":356,"ab":1.2},{"mz":359,"ab":2.0},{"mz":362,"ab":3.5},{"mz":365,"ab":2.0},{"mz":368,"ab":1.5},{"mz":371,"ab":12.6},{"mz":373.5,"ab":2.0},{"mz":376,"ab":1.5},{"mz":379.4,"ab":12.0},{"mz":382,"ab":2.0},{"mz":384.5,"ab":1.5},{"mz":387,"ab":12.6},{"mz":390,"ab":2.0},{"mz":393,"ab":1.5},{"mz":396,"ab":1.2},{"mz":399,"ab":2.0},{"mz":402,"ab":1.0},{"mz":407.1,"ab":3.5},{"mz":409,"ab":1.2},{"mz":411.5,"ab":2.0},{"mz":414,"ab":0.8},{"mz":417,"ab":1.5},{"mz":420,"ab":1.0},{"mz":423,"ab":1.2},{"mz":426,"ab":0.8},{"mz":429,"ab":1.5},{"mz":432,"ab":1.0},{"mz":435,"ab":3.5},{"mz":438,"ab":1.2},{"mz":441,"ab":0.8},{"mz":444,"ab":1.5},{"mz":447,"ab":1.0},{"mz":450,"ab":1.2},{"mz":453,"ab":0.8},{"mz":456,"ab":1.5},{"mz":459,"ab":1.0},{"mz":462,"ab":1.2},{"mz":464.8,"ab":7.5},{"mz":468,"ab":1.0},{"mz":471,"ab":1.5},{"mz":474,"ab":1.2},{"mz":477,"ab":2.0},{"mz":480,"ab":1.5},{"mz":482.2,"ab":68.7},{"mz":484,"ab":3.0},{"mz":487,"ab":1.5},{"mz":490,"ab":1.0},{"mz":493,"ab":3.5},{"mz":496,"ab":1.2},{"mz":499,"ab":1.5},{"mz":502,"ab":2.0},{"mz":505,"ab":3.0},{"mz":508,"ab":1.2},{"mz":511,"ab":2.5},{"mz":514,"ab":1.5},{"mz":517,"ab":2.0},{"mz":520,"ab":1.0},{"mz":523,"ab":1.5},{"mz":526,"ab":2.0},{"mz":529,"ab":1.2},{"mz":532,"ab":1.5},{"mz":535,"ab":3.5},{"mz":538,"ab":1.5},{"mz":541,"ab":2.0},{"mz":544,"ab":1.5},{"mz":547,"ab":2.5},{"mz":549.5,"ab":4.0},{"mz":551.6,"ab":6.6},{"mz":553.5,"ab":4.5},{"mz":556,"ab":2.0},{"mz":559,"ab":1.5},{"mz":562,"ab":2.0},{"mz":565,"ab":1.2},{"mz":568,"ab":2.0},{"mz":570.3,"ab":20.7},{"mz":573,"ab":3.5},{"mz":576,"ab":2.5},{"mz":579,"ab":1.5},{"mz":582,"ab":2.0},{"mz":585,"ab":1.2},{"mz":588,"ab":1.5},{"mz":591,"ab":2.0},{"mz":594,"ab":1.5},{"mz":596.7,"ab":6.6},{"mz":598.5,"ab":4.5},{"mz":601,"ab":2.0},{"mz":604,"ab":1.5},{"mz":607,"ab":2.5},{"mz":610,"ab":1.5},{"mz":613,"ab":2.0},{"mz":617.5,"ab":7.2},{"mz":620,"ab":2.0},{"mz":623,"ab":1.2},{"mz":626,"ab":2.0},{"mz":629,"ab":3.5},{"mz":631,"ab":5.0},{"mz":634,"ab":3.5},{"mz":637,"ab":2.0},{"mz":640,"ab":1.5},{"mz":643,"ab":2.5},{"mz":646,"ab":1.5},{"mz":648.8,"ab":4.5},{"mz":652,"ab":1.5},{"mz":655,"ab":2.0},{"mz":658,"ab":1.2},{"mz":661,"ab":1.5},{"mz":664,"ab":1.0},{"mz":668,"ab":1.5},{"mz":672,"ab":1.0},{"mz":676,"ab":1.8},{"mz":680,"ab":1.2},{"mz":684,"ab":2.0},{"mz":687,"ab":4.5},{"mz":690,"ab":1.5},{"mz":694,"ab":1.0},{"mz":698,"ab":1.5},{"mz":702,"ab":1.2},{"mz":706.4,"ab":7.2},{"mz":709,"ab":1.5},{"mz":712,"ab":1.0},{"mz":715,"ab":2.0},{"mz":718,"ab":1.2},{"mz":721,"ab":3.0},{"mz":724,"ab":3.5},{"mz":727,"ab":4.5},{"mz":730,"ab":2.0},{"mz":733,"ab":1.5},{"mz":736,"ab":1.2},{"mz":740,"ab":1.5},{"mz":744,"ab":1.0},{"mz":748,"ab":2.5},{"mz":752,"ab":1.2},{"mz":756,"ab":1.5},{"mz":760,"ab":1.0},{"mz":763.4,"ab":5.0},{"mz":766,"ab":1.2},{"mz":770,"ab":0.8},{"mz":774,"ab":1.0},{"mz":778,"ab":0.7},{"mz":782,"ab":1.0},{"mz":786,"ab":0.6},{"mz":790,"ab":0.8},{"mz":795,"ab":0.7},{"mz":800,"ab":1.0},{"mz":805,"ab":0.8},{"mz":810,"ab":0.6},{"mz":815,"ab":0.8},{"mz":820,"ab":0.5},{"mz":825,"ab":0.7},{"mz":830,"ab":0.8},{"mz":835,"ab":0.6},{"mz":840,"ab":1.5},{"mz":843.2,"ab":7.2},{"mz":846,"ab":1.0},{"mz":850,"ab":0.6},{"mz":855,"ab":0.8},{"mz":862,"ab":17.2},{"mz":864,"ab":1.5},{"mz":868,"ab":0.6},{"mz":872,"ab":0.8},{"mz":878,"ab":0.5},{"mz":884,"ab":0.7},{"mz":890,"ab":0.6},{"mz":896,"ab":0.8},{"mz":902,"ab":0.6},{"mz":908,"ab":0.7},{"mz":914,"ab":0.5},{"mz":920,"ab":0.6},{"mz":926,"ab":0.5},{"mz":932,"ab":0.8},{"mz":938,"ab":0.6},{"mz":944,"ab":0.8},{"mz":950,"ab":0.6},{"mz":957.8,"ab":1.7},{"mz":962,"ab":0.6},{"mz":968,"ab":0.8},{"mz":974.4,"ab":2.3},{"mz":978,"ab":0.8},{"mz":984,"ab":0.6},{"mz":990,"ab":0.9},{"mz":996,"ab":0.5},{"mz":1002,"ab":0.6},{"mz":1008,"ab":0.5},{"mz":1014,"ab":0.8},{"mz":1019,"ab":0.6},{"mz":1024,"ab":1.2},{"mz":1030,"ab":0.6},{"mz":1036,"ab":0.8},{"mz":1042,"ab":0.6},{"mz":1048,"ab":1.0},{"mz":1054,"ab":0.6},{"mz":1060,"ab":0.8},{"mz":1066,"ab":0.7},{"mz":1075.5,"ab":3.9},{"mz":1080,"ab":0.8},{"mz":1086,"ab":0.6},{"mz":1092,"ab":0.5},{"mz":1098,"ab":0.7},{"mz":1104,"ab":0.5},{"mz":1112,"ab":2.0},{"mz":1118,"ab":0.6},{"mz":1124,"ab":0.5},{"mz":1130,"ab":0.8},{"mz":1138,"ab":0.5},{"mz":1146,"ab":0.4},{"mz":1154,"ab":0.5},{"mz":1162,"ab":0.4},{"mz":1170,"ab":0.5},{"mz":1178,"ab":0.4},{"mz":1183,"ab":0.9},{"mz":1190,"ab":0.4},{"mz":1197,"ab":0.5},{"mz":1205.7,"ab":0.9},{"mz":1212,"ab":0.4},{"mz":1225,"ab":0.3},{"mz":1240,"ab":0.4},{"mz":1260,"ab":0.3},{"mz":1280,"ab":0.3},{"mz":1300,"ab":0.3},{"mz":1320,"ab":0.3},{"mz":1345,"ab":0.3},{"mz":1370,"ab":0.3},{"mz":1400,"ab":0.3},{"mz":1430,"ab":0.3},{"mz":1460,"ab":0.3},{"mz":1490,"ab":0.3},{"mz":1520,"ab":0.3},{"mz":1550,"ab":0.3},{"mz":1580,"ab":0.3},{"mz":1610,"ab":0.3},{"mz":1640,"ab":0.3}],
"lC": [{"mz":197.4,"ab":97.9,"ion":"y₁","v":"156.076"},{"mz":212,"ab":87.9,"ion":"y₂","v":"213.098"},{"mz":482.2,"ab":70.6,"ion":"y₅","v":"482.234"},{"mz":312,"ab":49.6,"ion":"y₃","v":"312.166"},{"mz":259.9,"ab":41.3,"ion":"b₂","v":"277.113"},{"mz":371,"ab":34.0,"ion":"y₄","v":"369.187"},{"mz":430,"ab":20.8,"ion":"b₃","v":"405.176"},{"mz":570.3,"ab":22.3,"ion":"y₆","v":"569.266"},{"mz":707.8,"ab":20.1,"ion":"y₇","v":"706.326"},{"mz":763.4,"ab":12.7,"ion":"y₈","v":"763.346"},{"mz":812,"ab":28.2,"ion":"z₉","v":"843.389"},{"mz":862,"ab":18.1,"ion":"y₉","v":"860.398"},{"mz":975,"ab":12.5,"ion":"y₁₀","v":"974.444"},{"mz":1075.9,"ab":16.6,"ion":"y₁₁","v":"1075.491"},{"mz":1205.7,"ab":13.3,"ion":"y₁₂","v":"1203.579"}],
"dC": [{"mz":156.4,"ab":100.3,"mz2":183.5,"ab2":100.9},{"mz":312.2,"ab":48.4,"mz2":312.2,"ab2":4.2},{"mz":259.9,"ab":40.8,"mz2":279.4,"ab2":39.5},{"mz":279.4,"ab":39.5,"mz2":279.4,"ab2":13.3},{"mz":371,"ab":32.1,"mz2":371,"ab2":12.8},{"mz":430,"ab":20.0,"mz2":407.1,"ab2":18.6},{"mz":407.1,"ab":18.6,"mz2":407.1,"ab2":3.7},{"mz":706.4,"ab":18.6,"mz2":706.4,"ab2":7.4},{"mz":763.4,"ab":12.1,"mz2":763.4,"ab2":5.2},{"mz":808.5,"ab":26.7,"mz2":808.5,"ab2":8.3},{"mz":808.5,"ab":8.3,"mz2":843.2,"ab2":7.4},{"mz":974.4,"ab":11.8,"mz2":974.4,"ab2":2.5},{"mz":1075.5,"ab":15.8,"mz2":1075.5,"ab2":4.0},{"mz":1205.7,"ab":12.0,"mz2":1205.7,"ab2":0.9}],
"rC": [{"i":1.0,"yy":71.2,"aa":"E"},{"i":1.96,"yy":71.2,"aa":"F"},{"i":2.98,"yy":71.2,"aa":"Q"},{"i":4.01,"yy":71.2,"aa":"K"},{"i":4.92,"yy":71.2,"aa":"T"},{"i":5.91,"yy":71.2,"aa":"N"},{"i":6.92,"yy":71.2,"aa":"P"},{"i":7.94,"yy":71.2,"aa":"G"},{"i":8.95,"yy":71.2,"aa":"H"},{"i":9.96,"yy":71.2,"aa":"S"},{"i":10.95,"yy":71.2,"aa":"P"},{"i":11.95,"yy":71.2,"aa":"G"},{"i":12.98,"yy":71.2,"aa":"V"},{"i":13.98,"yy":71.2,"aa":"G"},{"i":15.0,"yy":71.2,"aa":"H"}],
"sC": [{"i":3.56,"yy":78.8,"i2":3.56,"yy2":63.8},{"i":4.53,"yy":78.8,"i2":4.53,"yy2":63.8},{"i":5.45,"yy":78.8,"i2":5.45,"yy2":63.8},{"i":6.44,"yy":78.8,"i2":6.44,"yy2":63.8},{"i":7.45,"yy":78.8,"i2":7.45,"yy2":63.8},{"i":8.45,"yy":78.8,"i2":8.45,"yy2":63.8},{"i":9.5,"yy":78.8,"i2":9.5,"yy2":63.8},{"i":10.49,"yy":78.8,"i2":10.49,"yy2":63.8},{"i":11.54,"yy":78.8,"i2":11.54,"yy2":63.8},{"i":12.58,"yy":78.8,"i2":12.58,"yy2":63.8},{"i":13.53,"yy":78.8,"i2":13.53,"yy2":63.8},{"i":14.63,"yy":78.8,"i2":14.63,"yy2":63.8},{"i":3.56,"yy":63.8,"i2":3.76,"yy2":62.7},{"i":4.53,"yy":63.8,"i2":4.73,"yy2":62.7},{"i":5.45,"yy":63.8,"i2":5.65,"yy2":62.7},{"i":6.44,"yy":63.8,"i2":6.64,"yy2":62.7},{"i":7.45,"yy":63.8,"i2":7.65,"yy2":62.7},{"i":8.45,"yy":63.8,"i2":8.65,"yy2":62.7},{"i":9.5,"yy":63.8,"i2":9.7,"yy2":62.7},{"i":10.49,"yy":63.8,"i2":10.69,"yy2":62.7},{"i":11.54,"yy":63.8,"i2":11.74,"yy2":62.7},{"i":12.58,"yy":63.8,"i2":12.78,"yy2":62.7},{"i":13.53,"yy":63.8,"i2":13.73,"yy2":62.7},{"i":14.63,"yy":63.8,"i2":14.83,"yy2":62.7},{"i":2.41,"yy":78.8,"i2":2.41,"yy2":63.6},{"i":2.41,"yy":78.8,"i2":2.15,"yy2":79.9},{"i":3.56,"yy":78.8,"i2":3.30,"yy2":79.9},{"i":6.53,"yy":78.8,"i2":6.53,"yy2":67.4},{"i":6.53,"yy":67.4,"i2":6.75,"yy2":66.3}],
"tlC": [{"i":3.78,"yy":62.4,"t":"y₁₂"},{"i":4.75,"yy":62.4,"t":"y₁₁"},{"i":5.67,"yy":62.4,"t":"y₁₀"},{"i":6.66,"yy":62.4,"t":"y₉"},{"i":7.67,"yy":62.4,"t":"y₈"},{"i":8.67,"yy":62.4,"t":"y₇"},{"i":9.72,"yy":62.4,"t":"y₆"},{"i":10.71,"yy":62.4,"t":"y₅"},{"i":11.76,"yy":62.4,"t":"y₄"},{"i":12.8,"yy":62.4,"t":"y₃"},{"i":13.75,"yy":62.4,"t":"y₂"},{"i":14.85,"yy":62.4,"t":"y₁"},{"i":6.8,"yy":65.9,"t":"z₉"}],
"trC": [{"i":2.12,"yy":80.6,"t":"b₂"},{"i":3.27,"yy":80.6,"t":"b₃"}]
},
"vconcat": [
{
"width": 745, "height": 307,
"layer": [
{"layer": [
{"data": {"name": "pA"}, "mark": {"type": "rule", "color": "#8c8c8c", "strokeWidth": 1},
 "encoding": {"x": {"field": "mz", "type": "quantitative", "scale": {"domain": [106, 1564], "nice": false, "zero": false},
   "axis": {"title": "m/z", "format": "d", "domain": false, "values": [200,400,600,800,1000,1200,1400], "tickSize": 6, "labelPadding": 2, "labelFontSize": 12, "titleFontSize": 11, "titlePadding": 4, "labelFlush": false}},
  "y": {"field": "ab", "type": "quantitative", "scale": {"domain": [0, 100], "nice": false},
   "axis": {"title": "Relative Abundance", "values": [0,10,20,30,40,50,60,70,80,90,100], "tickSize": 5, "labelPadding": 2, "labelFontSize": 12, "titleFontSize": 12, "titleX": -34.7, "titleY": 153.5, "titleAlign": "center", "titleBaseline": "middle", "titleAngle": -90, "minExtent": 0}},
  "y2": {"datum": 0}}},
{"data": {"name": "dA"}, "mark": {"type": "rule", "color": "#222", "strokeWidth": 1, "strokeDash": [3, 2]},
 "encoding": {"x": {"field": "mz", "type": "quantitative", "axis": {"title": null, "orient": "bottom", "labels": false, "domain": false, "tickSize": 3, "values": [120,140,160,180,220,240,260,280,300,320,340,360,380,420,440,460,480,500,520,540,560,580,620,640,660,680,700,720,740,760,780,820,840,860,880,900,920,940,960,980,1020,1040,1060,1080,1100,1120,1140,1160,1180,1220,1240,1260,1280,1300,1320,1340,1360,1380,1420,1440,1460,1480,1500,1520,1540,1560]}},
  "y": {"field": "ab", "type": "quantitative", "axis": {"title": null, "orient": "left", "labels": false, "domain": false, "tickSize": 2.5, "minExtent": 0, "values": [2,4,6,8,12,14,16,18,22,24,26,28,32,34,36,38,42,44,46,48,52,54,56,58,62,64,66,68,72,74,76,78,82,84,86,88,92,94,96,98]}},
  "x2": {"field": "mz2"}, "y2": {"field": "ab2"}}},
{"mark": {"type": "rule", "color": "#9a9a9a", "strokeWidth": 1},
 "encoding": {"x": {"datum": 106, "type": "quantitative", "axis": null}, "x2": {"datum": 1564}, "y": {"datum": 0, "type": "quantitative", "axis": null}}},
{"data": {"name": "lA"}, "mark": {"type": "text", "fontSize": 10, "baseline": "alphabetic", "color": "#111"},
 "encoding": {"x": {"field": "mz", "type": "quantitative", "axis": null}, "y": {"field": "ab", "type": "quantitative", "axis": null}, "text": {"field": "v"}}},
{"data": {"name": "lA"}, "mark": {"type": "text", "fontSize": 10, "baseline": "alphabetic", "dy": -11, "color": "#111"},
 "encoding": {"x": {"field": "mz", "type": "quantitative", "axis": null}, "y": {"field": "ab", "type": "quantitative", "axis": null}, "text": {"field": "ion"}}}
],
"resolve": {"axis": {"x": "independent", "y": "independent"}}},
{"layer": [
{"data": {"name": "sA"}, "mark": {"type": "rule", "color": "#333", "strokeWidth": 1},
 "encoding": {"x": {"field": "i", "type": "quantitative", "scale": {"domain": [-12.715, 16.731], "nice": false, "zero": false}, "axis": null}, "y": {"field": "yy", "type": "quantitative", "scale": {"domain": [0, 100], "nice": false}, "axis": null}, "x2": {"field": "i2"}, "y2": {"field": "yy2"}}},
{"data": {"name": "rA"}, "mark": {"type": "text", "fontSize": 18, "baseline": "middle", "color": "#222"},
 "encoding": {"x": {"field": "i", "type": "quantitative"}, "y": {"field": "yy", "type": "quantitative"}, "text": {"field": "aa"}}},
{"data": {"name": "tlA"}, "mark": {"type": "text", "fontSize": 10, "align": "left", "baseline": "middle", "color": "#333"},
 "encoding": {"x": {"field": "i", "type": "quantitative"}, "y": {"field": "yy", "type": "quantitative"}, "text": {"field": "t"}}},
{"data": {"name": "trA"}, "mark": {"type": "text", "fontSize": 10, "align": "right", "baseline": "middle", "color": "#333"},
 "encoding": {"x": {"field": "i", "type": "quantitative"}, "y": {"field": "yy", "type": "quantitative"}, "text": {"field": "t"}}},
{"data": {"values": [{"i": 15.31, "yy": 97.1, "t": "D1:HyP4,7,11"}]}, "mark": {"type": "text", "fontSize": 20, "align": "right", "baseline": "middle", "color": "#222"},
 "encoding": {"x": {"field": "i", "type": "quantitative"}, "y": {"field": "yy", "type": "quantitative"}, "text": {"field": "t"}}},
{"data": {"values": [{"i": -14.53, "yy": 104.6, "t": "A"}]}, "mark": {"type": "text", "fontSize": 18, "fontWeight": "bold", "align": "left", "baseline": "middle", "color": "#000"},
 "encoding": {"x": {"field": "i", "type": "quantitative"}, "y": {"field": "yy", "type": "quantitative"}, "text": {"field": "t"}}}
]}
],
"resolve": {"scale": {"x": "independent", "y": "independent"}, "axis": {"x": "independent", "y": "independent"}}
},
{
"width": 748, "height": 305,
"layer": [
{"layer": [
{"data": {"name": "pB"}, "mark": {"type": "rule", "color": "#8c8c8c", "strokeWidth": 1},
 "encoding": {"x": {"field": "mz", "type": "quantitative", "scale": {"domain": [127.0, 1971.7], "nice": false, "zero": false},
   "axis": {"title": "m/z", "format": "d", "domain": false, "values": [200,400,600,800,1000,1200,1400,1600,1800], "tickSize": 6, "labelPadding": 2, "labelFontSize": 12, "titleFontSize": 11, "titlePadding": 4, "labelFlush": false}},
  "y": {"field": "ab", "type": "quantitative", "scale": {"domain": [0, 100], "nice": false},
   "axis": {"title": "Relative Abundance", "offset": -2, "values": [0,10,20,30,40,50,60,70,80,90,100], "tickSize": 5, "labelPadding": 2, "labelFontSize": 12, "titleFontSize": 12, "titleX": -36.7, "titleY": 152.5, "titleAlign": "center", "titleBaseline": "middle", "titleAngle": -90, "minExtent": 0}},
  "y2": {"datum": 0}}},
{"data": {"name": "dB"}, "mark": {"type": "rule", "color": "#222", "strokeWidth": 1, "strokeDash": [3, 2]},
 "encoding": {"x": {"field": "mz", "type": "quantitative", "axis": {"title": null, "orient": "bottom", "labels": false, "domain": false, "tickSize": 3, "values": [140,160,180,220,240,260,280,300,320,340,360,380,420,440,460,480,500,520,540,560,580,620,640,660,680,700,720,740,760,780,820,840,860,880,900,920,940,960,980,1020,1040,1060,1080,1100,1120,1140,1160,1180,1220,1240,1260,1280,1300,1320,1340,1360,1380,1420,1440,1460,1480,1500,1520,1540,1560,1580,1620,1640,1660,1680,1700,1720,1740,1760,1780,1820,1840,1860,1880,1900,1920,1940,1960]}},
  "y": {"field": "ab", "type": "quantitative", "axis": {"title": null, "orient": "left", "offset": -2, "labels": false, "domain": false, "tickSize": 2.5, "minExtent": 0, "values": [2,4,6,8,12,14,16,18,22,24,26,28,32,34,36,38,42,44,46,48,52,54,56,58,62,64,66,68,72,74,76,78,82,84,86,88,92,94,96,98]}},
  "x2": {"field": "mz2"}, "y2": {"field": "ab2"}}},
{"mark": {"type": "rule", "color": "#9a9a9a", "strokeWidth": 1},
 "encoding": {"x": {"datum": 132, "type": "quantitative", "axis": null}, "x2": {"datum": 1971.7}, "y": {"datum": 0, "type": "quantitative", "axis": null}}},
{"data": {"name": "lB"}, "mark": {"type": "text", "fontSize": 10, "baseline": "alphabetic", "color": "#111"},
 "encoding": {"x": {"field": "mz", "type": "quantitative", "axis": null}, "y": {"field": "ab", "type": "quantitative", "axis": null}, "text": {"field": "v"}}},
{"data": {"name": "lB"}, "mark": {"type": "text", "fontSize": 10, "baseline": "alphabetic", "dy": -11, "color": "#111"},
 "encoding": {"x": {"field": "mz", "type": "quantitative", "axis": null}, "y": {"field": "ab", "type": "quantitative", "axis": null}, "text": {"field": "ion"}}}
],
"resolve": {"axis": {"x": "independent", "y": "independent"}}},
{"layer": [
{"data": {"name": "sB"}, "mark": {"type": "rule", "color": "#333", "strokeWidth": 1},
 "encoding": {"x": {"field": "i", "type": "quantitative", "scale": {"domain": [-13.41, 16.226], "nice": false, "zero": false}, "axis": null}, "y": {"field": "yy", "type": "quantitative", "scale": {"domain": [0, 100], "nice": false}, "axis": null}, "x2": {"field": "i2"}, "y2": {"field": "yy2"}}},
{"data": {"name": "rB"}, "mark": {"type": "text", "fontSize": 18, "baseline": "middle", "color": "#222"},
 "encoding": {"x": {"field": "i", "type": "quantitative"}, "y": {"field": "yy", "type": "quantitative"}, "text": {"field": "aa"}}},
{"data": {"name": "tlB"}, "mark": {"type": "text", "fontSize": 10, "align": "left", "baseline": "middle", "color": "#333"},
 "encoding": {"x": {"field": "i", "type": "quantitative"}, "y": {"field": "yy", "type": "quantitative"}, "text": {"field": "t"}}},
{"data": {"name": "trB"}, "mark": {"type": "text", "fontSize": 10, "align": "right", "baseline": "middle", "color": "#333"},
 "encoding": {"x": {"field": "i", "type": "quantitative"}, "y": {"field": "yy", "type": "quantitative"}, "text": {"field": "t"}}},
{"data": {"values": [{"i": 15.30, "yy": 94.5, "t": "D1:HyP4,7,TaP11"}]}, "mark": {"type": "text", "fontSize": 20, "align": "right", "baseline": "middle", "color": "#222"},
 "encoding": {"x": {"field": "i", "type": "quantitative"}, "y": {"field": "yy", "type": "quantitative"}, "text": {"field": "t"}}},
{"data": {"values": [{"i": -15.232, "yy": 103.6, "t": "B"}]}, "mark": {"type": "text", "fontSize": 18, "fontWeight": "bold", "align": "left", "baseline": "middle", "color": "#000"},
 "encoding": {"x": {"field": "i", "type": "quantitative"}, "y": {"field": "yy", "type": "quantitative"}, "text": {"field": "t"}}}
]}
],
"resolve": {"scale": {"x": "independent", "y": "independent"}, "axis": {"x": "independent", "y": "independent"}}
},
{
"width": 750, "height": 307,
"layer": [
{"layer": [
{"data": {"name": "pC"}, "mark": {"type": "rule", "color": "#8c8c8c", "strokeWidth": 1},
 "encoding": {"x": {"field": "mz", "type": "quantitative", "scale": {"domain": [99.4, 1661.9], "nice": false, "zero": false},
   "axis": {"title": "m/z", "format": "d", "domain": false, "values": [200,400,600,800,1000,1200,1400,1600], "tickSize": 6, "labelPadding": 2, "labelFontSize": 12, "titleFontSize": 11, "titlePadding": 4, "labelFlush": false}},
  "y": {"field": "ab", "type": "quantitative", "scale": {"domain": [0, 100], "nice": false},
   "axis": {"title": "Relative Abundance", "offset": -6, "values": [0,10,20,30,40,50,60,70,80,90,100], "tickSize": 5, "labelPadding": 2, "labelFontSize": 12, "titleFontSize": 12, "titleX": -35.7, "titleY": 153.5, "titleAlign": "center", "titleBaseline": "middle", "titleAngle": -90, "minExtent": 0}},
  "y2": {"datum": 0}}},
{"data": {"name": "dC"}, "mark": {"type": "rule", "color": "#222", "strokeWidth": 1, "strokeDash": [3, 2]},
 "encoding": {"x": {"field": "mz", "type": "quantitative", "axis": {"title": null, "orient": "bottom", "labels": false, "domain": false, "tickSize": 3, "values": [120,140,160,180,220,240,260,280,300,320,340,360,380,420,440,460,480,500,520,540,560,580,620,640,660,680,700,720,740,760,780,820,840,860,880,900,920,940,960,980,1020,1040,1060,1080,1100,1120,1140,1160,1180,1220,1240,1260,1280,1300,1320,1340,1360,1380,1420,1440,1460,1480,1500,1520,1540,1560,1580,1620,1640,1660]}},
  "y": {"field": "ab", "type": "quantitative", "axis": {"title": null, "orient": "left", "offset": -6, "labels": false, "domain": false, "tickSize": 2.5, "minExtent": 0, "values": [2,4,6,8,12,14,16,18,22,24,26,28,32,34,36,38,42,44,46,48,52,54,56,58,62,64,66,68,72,74,76,78,82,84,86,88,92,94,96,98]}},
  "x2": {"field": "mz2"}, "y2": {"field": "ab2"}}},
{"mark": {"type": "rule", "color": "#9a9a9a", "strokeWidth": 1},
 "encoding": {"x": {"datum": 112, "type": "quantitative", "axis": null}, "x2": {"datum": 1661.9}, "y": {"datum": 0, "type": "quantitative", "axis": null}}},
{"data": {"name": "lC"}, "mark": {"type": "text", "fontSize": 10, "baseline": "alphabetic", "color": "#111"},
 "encoding": {"x": {"field": "mz", "type": "quantitative", "axis": null}, "y": {"field": "ab", "type": "quantitative", "axis": null}, "text": {"field": "v"}}},
{"data": {"name": "lC"}, "mark": {"type": "text", "fontSize": 10, "baseline": "alphabetic", "dy": -11, "color": "#111"},
 "encoding": {"x": {"field": "mz", "type": "quantitative", "axis": null}, "y": {"field": "ab", "type": "quantitative", "axis": null}, "text": {"field": "ion"}}}
],
"resolve": {"axis": {"x": "independent", "y": "independent"}}},
{"layer": [
{"data": {"name": "sC"}, "mark": {"type": "rule", "color": "#333", "strokeWidth": 1},
 "encoding": {"x": {"field": "i", "type": "quantitative", "scale": {"domain": [-13.482, 15.929], "nice": false, "zero": false}, "axis": null}, "y": {"field": "yy", "type": "quantitative", "scale": {"domain": [0, 100], "nice": false}, "axis": null}, "x2": {"field": "i2"}, "y2": {"field": "yy2"}}},
{"data": {"name": "rC"}, "mark": {"type": "text", "fontSize": 18, "baseline": "middle", "color": "#222"},
 "encoding": {"x": {"field": "i", "type": "quantitative"}, "y": {"field": "yy", "type": "quantitative"}, "text": {"field": "aa"}}},
{"data": {"name": "tlC"}, "mark": {"type": "text", "fontSize": 10, "align": "left", "baseline": "middle", "color": "#333"},
 "encoding": {"x": {"field": "i", "type": "quantitative"}, "y": {"field": "yy", "type": "quantitative"}, "text": {"field": "t"}}},
{"data": {"name": "trC"}, "mark": {"type": "text", "fontSize": 10, "align": "right", "baseline": "middle", "color": "#333"},
 "encoding": {"x": {"field": "i", "type": "quantitative"}, "y": {"field": "yy", "type": "quantitative"}, "text": {"field": "t"}}},
{"data": {"values": [{"i": 15.03, "yy": 92.4, "t": "D2:HyP11"}]}, "mark": {"type": "text", "fontSize": 20, "align": "right", "baseline": "middle", "color": "#222"},
 "encoding": {"x": {"field": "i", "type": "quantitative"}, "y": {"field": "yy", "type": "quantitative"}, "text": {"field": "t"}}},
{"data": {"values": [{"i": -15.286, "yy": 103.0, "t": "C"}]}, "mark": {"type": "text", "fontSize": 18, "fontWeight": "bold", "align": "left", "baseline": "middle", "color": "#000"},
 "encoding": {"x": {"field": "i", "type": "quantitative"}, "y": {"field": "yy", "type": "quantitative"}, "text": {"field": "t"}}}
]}
],
"resolve": {"scale": {"x": "independent", "y": "independent"}, "axis": {"x": "independent", "y": "independent"}}
}
],
"config": {
 "font": "Liberation Sans",
 "view": {"stroke": null},
 "axis": {"domainColor": "#9a9a9a", "tickColor": "#9a9a9a", "labelColor": "#000", "titleColor": "#000", "titleFontWeight": "normal", "grid": false, "labelFont": "Liberation Sans", "titleFont": "Liberation Sans"},
 "text": {"font": "Liberation Sans"}
}
}
